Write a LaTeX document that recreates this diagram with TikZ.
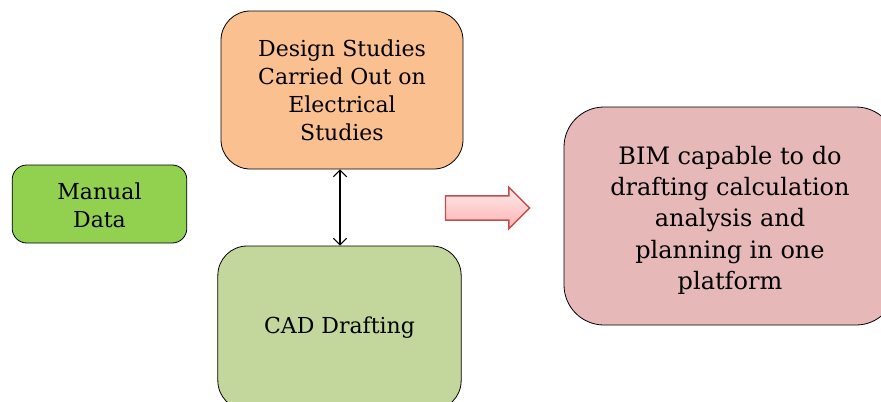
\documentclass[tikz,border=0pt]{standalone}
\usepackage{fontspec}
\setmainfont{DejaVu Serif}
\usetikzlibrary{arrows.meta, positioning, shapes.arrows}

\definecolor{manualgreen}{RGB}{146,208,80}
\definecolor{designorange}{RGB}{250,192,143}
\definecolor{cadgreen}{RGB}{195,214,155}
\definecolor{bimpink}{RGB}{230,185,184}
\definecolor{arrowred}{RGB}{192,80,77}

\begin{document}
\begin{tikzpicture}[
  x=0.75pt, y=-0.75pt,
  box/.style={rectangle, draw, rounded corners=22pt, inner sep=0pt, align=center, line width=0.6pt, font=\fontsize{16.5}{21}\selectfont},
  arrow/.style={{Straight Barb[length=5pt,width=10pt]}-{Straight Barb[length=5pt,width=10pt]}, line width=0.8pt},
  bigarrow/.style={single arrow, draw=arrowred, line width=1pt, inner xsep=0pt, inner ysep=8.6pt, single arrow head extend=6.4pt, minimum height=63pt, top color=red!8, bottom color=red!30}
]
\useasboundingbox (0,0) rectangle (881,401);

\node[box, fill=manualgreen, rounded corners=11pt, minimum width=131pt, minimum height=58.5pt] (manual) at (99.5,204) {\raisebox{-3pt}[\height][\depth]{\begin{tabular}{@{}c@{}}Manual\\Data\end{tabular}}};
\node[box, fill=designorange, minimum width=181.5pt, minimum height=118.5pt] (design) at (342,90) {Design Studies\\Carried Out on\\Electrical\\Studies};
\node[box, fill=cadgreen, minimum width=182.5pt, minimum height=123pt] (cad) at (339.5,328) {CAD Drafting};
\node[box, fill=bimpink, rounded corners=30pt, minimum width=249pt, minimum height=163.5pt, font=\fontsize{18}{23.5}\selectfont] (bim) at (730,216) {\raisebox{-3.5pt}[\height][\depth]{\begin{tabular}{@{}c@{}}BIM capable to do\\drafting calculation\\analysis and\\planning in one\\platform\end{tabular}}};
\node[bigarrow] (next) at (481.5,208) {};

\draw[arrow] (design.south -| 340,0) -- (cad.north -| 340,0);

\end{tikzpicture}
\end{document}
